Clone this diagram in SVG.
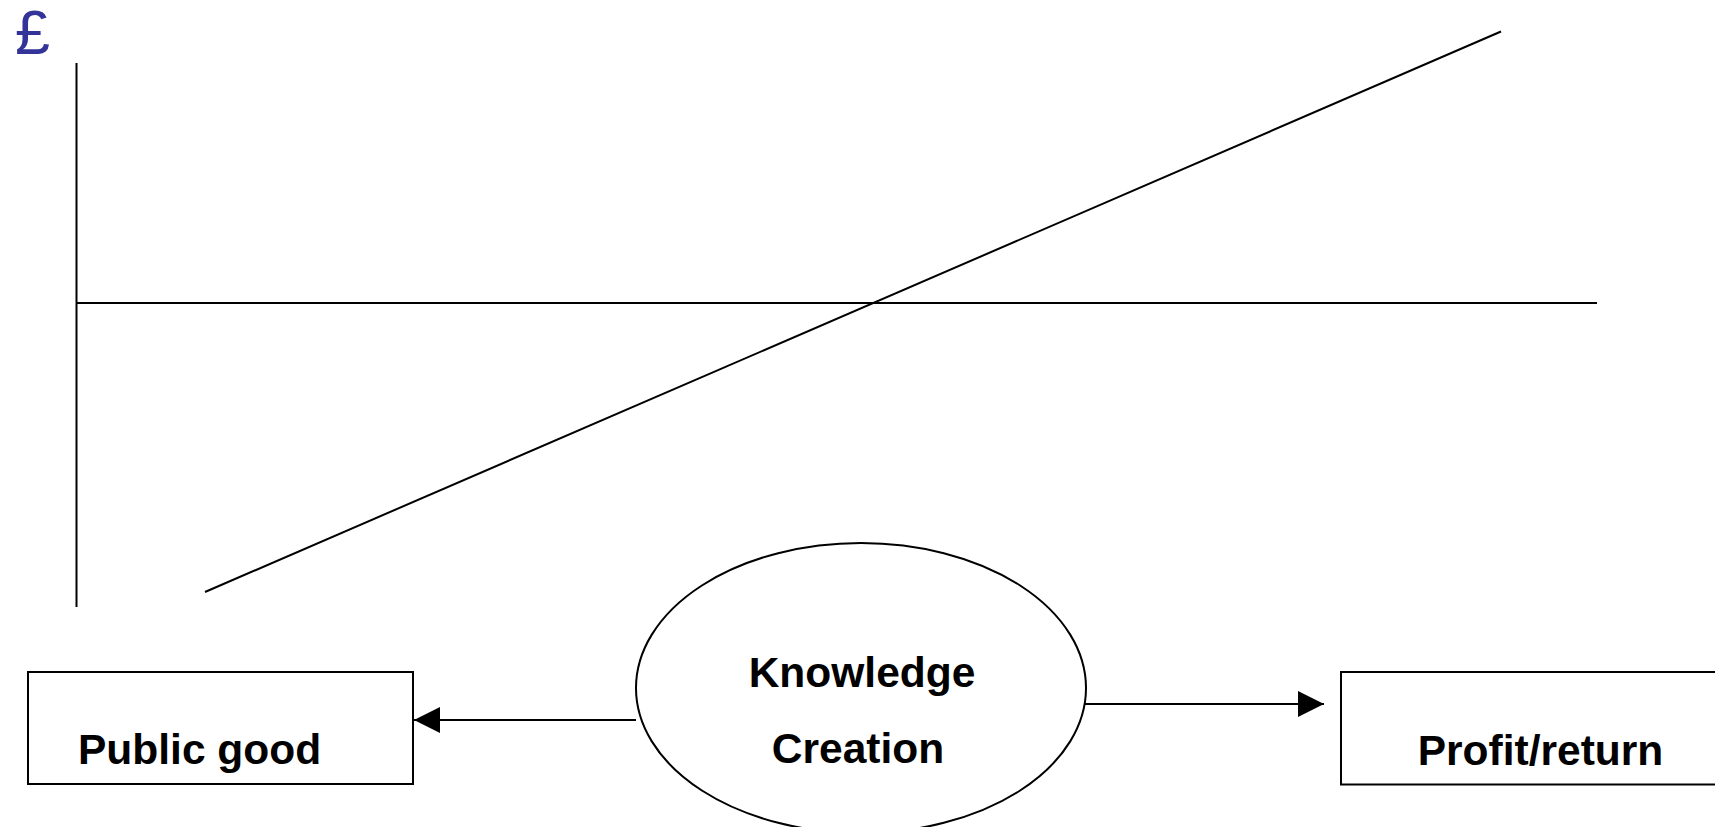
<svg xmlns="http://www.w3.org/2000/svg" width="1715" height="827" viewBox="0 0 1715 827">
<style>
.ln{stroke:#000;stroke-width:2;fill:none}
.bx{stroke:#000;stroke-width:2;fill:#fff}
.lbl{font-family:"Liberation Sans",Arial,sans-serif;font-weight:bold;font-size:42.5px;fill:#000}
</style>
<defs>
<marker id="ah" markerWidth="26" markerHeight="26" refX="26" refY="13" orient="auto" markerUnits="userSpaceOnUse">
<path d="M0,0 L26,13 L0,26 Z" fill="#000"/>
</marker>
</defs>
<rect width="1715" height="827" fill="#fff"/>
<g id="chart">
<text x="15" y="54" font-family="'Liberation Sans',Arial,sans-serif" font-size="63" fill="#333399">£</text>
<line class="ln" x1="76.5" y1="63" x2="76.5" y2="607"/>
<line class="ln" x1="76" y1="303" x2="1597" y2="303"/>
<line class="ln" x1="205" y1="592" x2="1501" y2="31.5"/>
</g>
<g id="connectors">
<line class="ln" x1="636" y1="720" x2="414" y2="720" marker-end="url(#ah)"/>
<line class="ln" x1="1085" y1="704" x2="1324" y2="704" marker-end="url(#ah)"/>
</g>
<g id="public-good">
<rect class="bx" x="28" y="672" width="385" height="112"/>
<text class="lbl" x="78" y="764">Public good</text>
</g>
<g id="knowledge-creation">
<ellipse class="bx" cx="861" cy="688" rx="225" ry="145"/>
<text class="lbl" x="862" y="687" text-anchor="middle">Knowledge</text>
<text class="lbl" x="858" y="763" text-anchor="middle">Creation</text>
</g>
<g id="profit-return">
<rect class="bx" x="1341" y="672" width="400" height="112.5"/>
<text class="lbl" x="1540.5" y="765" text-anchor="middle">Profit/return</text>
</g>
</svg>
